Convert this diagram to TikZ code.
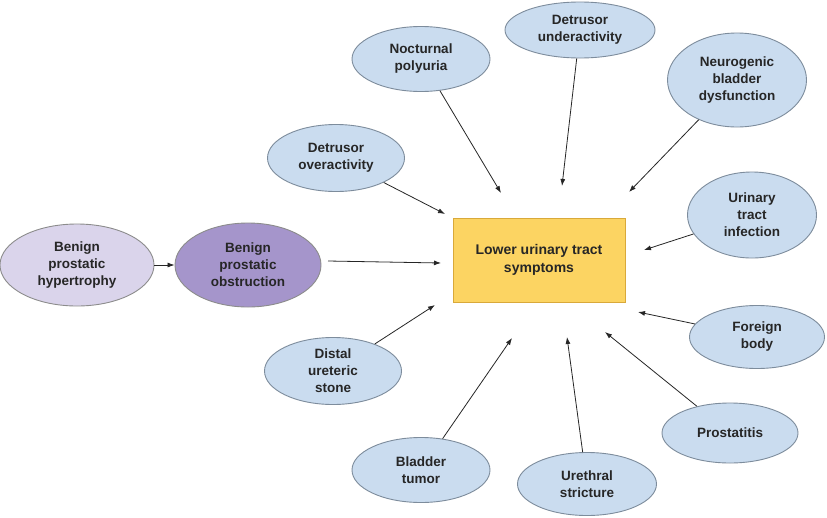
\documentclass[tikz,border=0pt]{standalone}
\usepackage{fontspec}
\setmainfont{Liberation Sans}
\usetikzlibrary{shapes.geometric,arrows.meta}
\definecolor{bluefill}{HTML}{CADCEF}
\definecolor{blueline}{HTML}{7D8C9C}
\definecolor{lavfill}{HTML}{DAD4EB}
\definecolor{purfill}{HTML}{A595CB}
\definecolor{yelfill}{HTML}{FCD462}
\definecolor{yelline}{HTML}{D9A93A}
\tikzset{
  bubble/.style={ellipse, draw=blueline, line width=0.9pt, fill=bluefill, inner sep=0pt,
    align=center, font=\fontsize{13.5}{17}\selectfont\bfseries, text=black!85},
  mainbox/.style={rectangle, draw=yelline, line width=1pt, fill=yelfill, inner sep=0pt,
    align=center, font=\fontsize{14}{18}\selectfont\bfseries, text=black!85},
  arr/.style={-{Latex[length=7pt,width=5pt]}, line width=0.8pt, black!85},
}
\begin{document}
\begin{tikzpicture}[x=1pt,y=-1pt]
\useasboundingbox (0,0) rectangle (827,517);
\fill[white] (0,0) rectangle (827,517);

\node[mainbox, minimum width=172pt, minimum height=84pt] (luts) at (539,260) {Lower urinary tract\\symptoms};

\node[bubble, fill=lavfill, draw=black!45, minimum width=154pt, minimum height=82pt] (bph) at (77,265) {Benign\\prostatic\\hypertrophy};
\node[bubble, fill=purfill, draw=black!45, minimum width=146pt, minimum height=84pt] (bpo) at (248,265) {Benign\\prostatic\\obstruction};

\node[bubble, minimum width=138pt, minimum height=65pt] (noc) at (421,59) {Nocturnal\\polyuria};
\node[bubble, minimum width=150pt, minimum height=56pt] (du) at (580,30) {Detrusor\\underactivity};
\node[bubble, minimum width=137pt, minimum height=67pt] (do) at (336,158) {Detrusor\\overactivity};
\node[bubble, minimum width=139pt, minimum height=94pt] (nbd) at (737,80) {Neurogenic\\bladder\\dysfunction};
\node[bubble, minimum width=129pt, minimum height=86pt] (uti) at (752,215) {Urinary\\tract\\infection};
\node[bubble, minimum width=135pt, minimum height=63pt] (fb) at (757,337) {Foreign\\body};
\node[bubble, minimum width=136pt, minimum height=60pt] (pro) at (730,433) {Prostatitis};
\node[bubble, minimum width=139pt, minimum height=63pt] (us) at (587,484) {Urethral\\stricture};
\node[bubble, minimum width=138pt, minimum height=65pt] (bt) at (421,470) {Bladder\\tumor};
\node[bubble, minimum width=137pt, minimum height=67pt] (dus) at (333,371) {Distal\\ureteric\\stone};

\coordinate (eBPO) at (441,263);
\coordinate (eNoc) at (501,193);
\coordinate (eDu) at (562,186);
\coordinate (eNbd) at (629,192);
\coordinate (eDo) at (445,214);
\coordinate (eUti) at (644,250);
\coordinate (eFb) at (638,312);
\coordinate (ePro) at (605,332);
\coordinate (eUs) at (567,337);
\coordinate (eBt) at (512,338);
\coordinate (eDus) at (435,305);
\coordinate (sBPO) at (328,261);

\draw[arr] (bph) -- (bpo);
\draw[arr] (sBPO) -- (eBPO);
\draw[arr] (noc) -- (eNoc);
\draw[arr] (du) -- (eDu);
\draw[arr] (nbd) -- (eNbd);
\draw[arr] (do) -- (eDo);
\draw[arr] (uti) -- (eUti);
\draw[arr] (fb) -- (eFb);
\draw[arr] (pro) -- (ePro);
\draw[arr] (us) -- (eUs);
\draw[arr] (bt) -- (eBt);
\draw[arr] (dus) -- (eDus);
\end{tikzpicture}
\end{document}
